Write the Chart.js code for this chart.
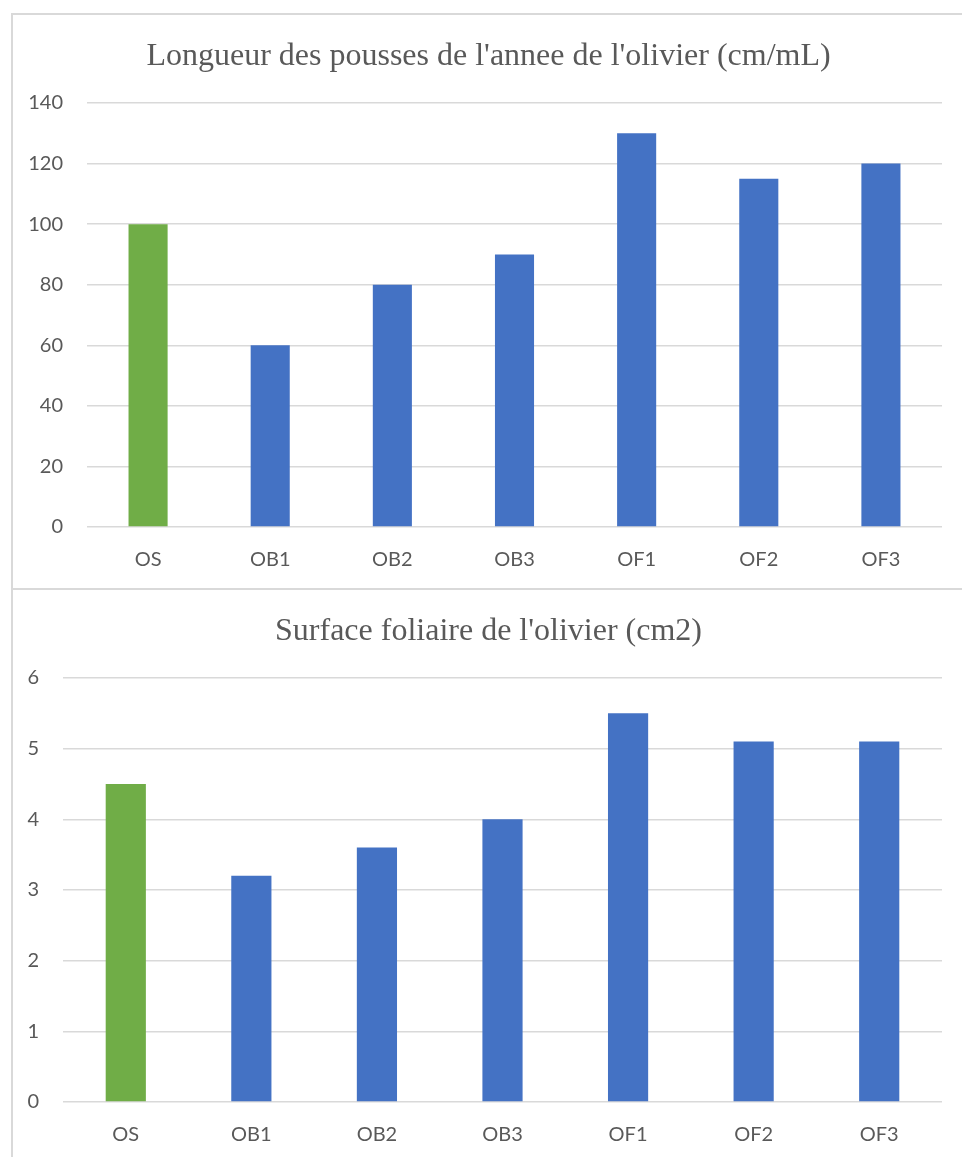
<!DOCTYPE html>
<html>
<head>
<meta charset="utf-8">
<script src="https://cdn.jsdelivr.net/npm/chart.js@4.4.1/dist/chart.umd.min.js"></script>
<style>
  html, body { margin: 0; padding: 0; background: #ffffff; }
  body { width: 962px; height: 1157px; position: relative; overflow: hidden; }
  .panel { position: absolute; left: 11px; background: #ffffff; box-sizing: border-box; }
  #panelTop { top: 13px; width: 960px; height: 577px; border-left: 2px solid #d9d9d9; border-top: 2px solid #d9d9d9; border-bottom: 2px solid #d9d9d9; }
  #panelBottom { top: 590px; width: 960px; height: 567px; border-left: 2px solid #d9d9d9; }
  canvas { display: block; }
</style>
</head>
<body>
<div class="panel" id="panelTop"><canvas id="chartTop" width="949" height="573"></canvas></div>
<div class="panel" id="panelBottom"><canvas id="chartBottom" width="949" height="566"></canvas></div>
<script>
// Treatment categories shared by both charts
const categories = ['OS', 'OB1', 'OB2', 'OB3', 'OF1', 'OF2', 'OF3'];

// Shoot length of the year (cm/mL)
const shootLength = [100, 60, 80, 90, 130, 115, 120];
// Leaf area (cm2)
const leafArea = [4.5, 3.2, 3.6, 4.0, 5.5, 5.1, 5.1];

// Axis ranges and tick steps
const shootAxis = { max: 140, step: 20 };
const leafAxis = { max: 6, step: 1 };

const titles = {
  top: "Longueur des pousses de l'annee de l'olivier (cm/mL)",
  bottom: "Surface foliaire de l'olivier (cm2)"
};

// Control (OS) in green, treatments in blue
const barColors = categories.map(c => c === 'OS' ? '#70AD47' : '#4472C4');

const textColor = '#595959';
const gridColor = '#d9d9d9';

// Title drawn in a serif face above the plot
const serifTitle = {
  id: 'serifTitle',
  afterDraw(chart, args, opts) {
    const ctx = chart.ctx;
    ctx.save();
    ctx.font = '32px "Liberation Serif", "Times New Roman", serif';
    ctx.fillStyle = textColor;
    ctx.textAlign = 'center';
    ctx.textBaseline = 'alphabetic';
    ctx.fillText(opts.text, chart.width / 2 + opts.dx, opts.baseline);
    ctx.restore();
  }
};

function makeChart(id, values, axis, title, yAxisWidth, xAxisHeight) {
  return new Chart(document.getElementById(id), {
    type: 'bar',
    data: {
      labels: categories,
      datasets: [{
        data: values,
        backgroundColor: barColors,
        borderWidth: 0,
        barPercentage: 0.32,
        categoryPercentage: 1.0
      }]
    },
    options: {
      responsive: false,
      animation: false,
      layout: { padding: { left: 0, right: 20, top: 88, bottom: 0 } },
      plugins: {
        legend: { display: false },
        tooltip: { enabled: false },
        title: { display: false },
        serifTitle: { text: title, dx: 1, baseline: 50 }
      },
      scales: {
        x: {
          grid: { display: false, drawTicks: false },
          border: { display: false },
          ticks: { color: textColor, font: { family: 'Lato', size: 20 }, padding: 21 },
          afterFit(scale) { scale.height = xAxisHeight; }
        },
        y: {
          min: 0,
          max: axis.max,
          grid: { color: gridColor, lineWidth: 1.5, drawTicks: false },
          border: { display: false },
          ticks: { stepSize: axis.step, color: textColor, font: { family: 'Lato', size: 20 }, padding: 24 },
          afterFit(scale) { scale.width = yAxisWidth; }
        }
      }
    },
    plugins: [serifTitle]
  });
}

makeChart('chartTop', shootLength, shootAxis, titles.top, 74, 61);
makeChart('chartBottom', leafArea, leafAxis, titles.bottom, 50, 54);
</script>
</body>
</html>
